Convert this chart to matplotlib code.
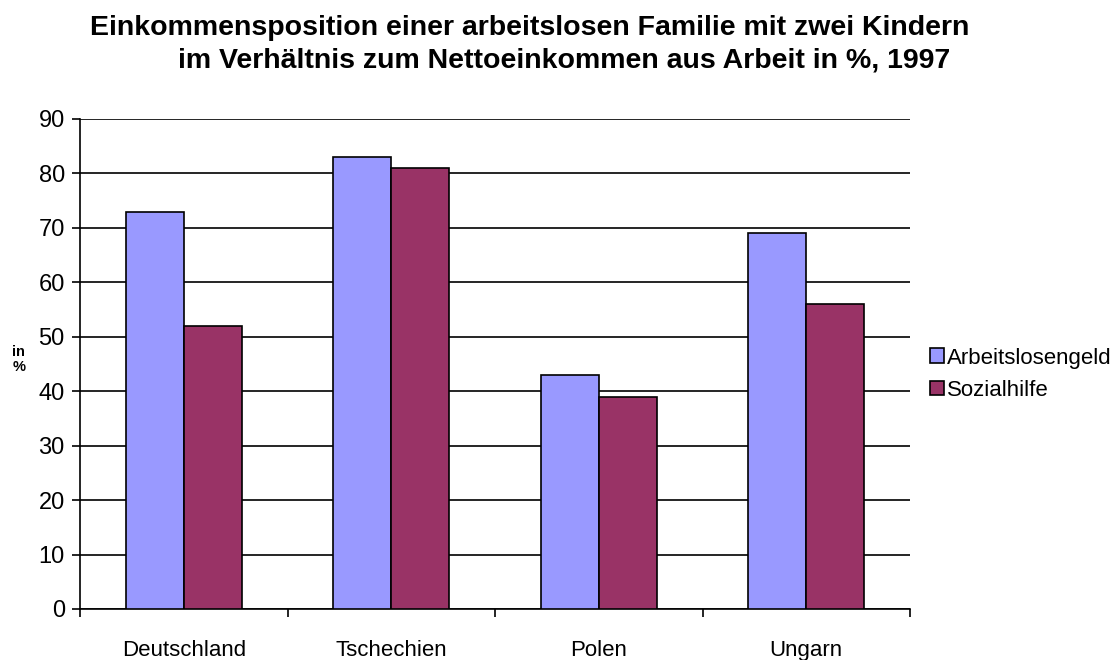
import matplotlib.pyplot as plt
import numpy as np
from matplotlib.patches import Patch

plt.rcParams['font.family'] = ['Liberation Sans', 'DejaVu Sans']

laender = ["Deutschland", "Tschechien", "Polen", "Ungarn"]
arbeitslosengeld = [73, 83, 43, 69]
sozialhilfe = [52, 81, 39, 56]
serien = ["Arbeitslosengeld", "Sozialhilfe"]
farben = ["#9999ff", "#993366"]

fig = plt.figure(figsize=(11.18, 6.6), dpi=100)
ax = fig.add_axes([0.0716, 0.0773, 0.7424, 0.7424])

x = np.arange(len(laender))
breite = 0.28
ax.bar(x - breite / 2, arbeitslosengeld, breite, color=farben[0],
       edgecolor="black", linewidth=1.2, zorder=3)
ax.bar(x + breite / 2, sozialhilfe, breite, color=farben[1],
       edgecolor="black", linewidth=1.2, zorder=3)

ax.set_xlim(-0.5, len(laender) - 0.5)
ax.set_ylim(0, 90)
ax.set_yticks(range(0, 91, 10))
ax.yaxis.grid(True, color="black", linewidth=1.2, zorder=0)
ax.set_axisbelow(True)

# Kategorien-Trennstriche unten
ax.set_xticks(np.arange(-0.5, len(laender), 1.0))
ax.set_xticklabels([])
ax.set_xticks(x, minor=True)
ax.set_xticklabels(laender, minor=True, fontsize=16)
ax.tick_params(axis="x", which="minor", length=0, pad=22)
ax.tick_params(axis="x", which="major", length=6, width=1.2, direction="out")
ax.tick_params(axis="y", length=6, width=1.2, labelsize=17, pad=5)

for s in ["top", "right"]:
    ax.spines[s].set_visible(False)
for s in ["left", "bottom"]:
    ax.spines[s].set_linewidth(1.2)

fig.text(0.011, 0.455, "in\n%", fontsize=10.5, fontweight="bold", ha="left", va="center",
         linespacing=1.1)

fig.text(0.474, 0.957, "Einkommensposition einer arbeitslosen Familie mit zwei Kindern",
         fontsize=20.5, fontweight="bold", ha="center", va="center")
fig.text(0.505, 0.908, "im Verhältnis zum Nettoeinkommen aus Arbeit in %, 1997",
         fontsize=20.5, fontweight="bold", ha="center", va="center")

handles = [Patch(facecolor=c, edgecolor="black", linewidth=1.2) for c in farben]
fig.legend(handles, serien, loc="center left", bbox_to_anchor=(0.8235, 0.433),
           frameon=False, fontsize=16, handlelength=0.65, handleheight=0.65,
           handletextpad=0.15, labelspacing=0.5, borderaxespad=0)

fig.savefig("out.png", dpi=100)
